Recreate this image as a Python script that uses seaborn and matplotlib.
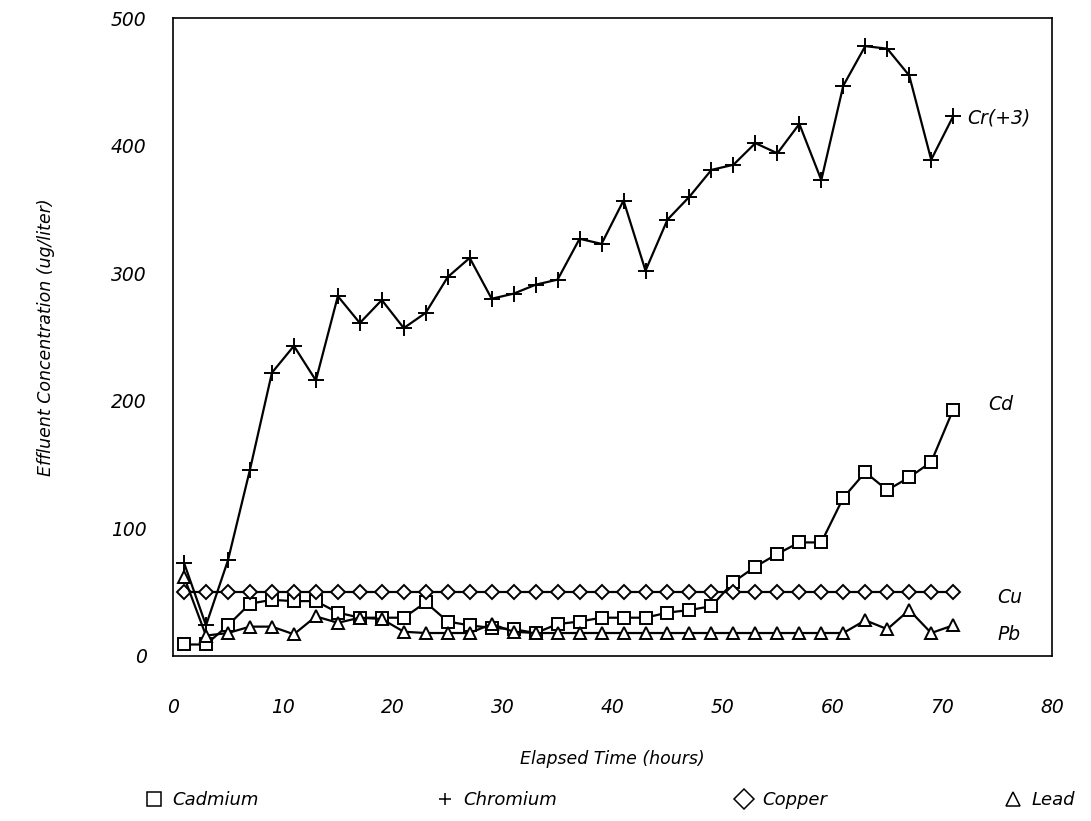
import seaborn as sns
import matplotlib.pyplot as plt
from matplotlib.lines import Line2D
import pandas as pd

sns.set_style("white")
plt.rcParams['font.family'] = ['DejaVu Sans']
plt.rcParams['font.style'] = 'italic'
plt.rcParams.update({"text.color": "black", "axes.labelcolor": "black",
                     "xtick.color": "black", "ytick.color": "black"})

# elapsed time (hours), one sample every 2 hours
hours = list(range(1, 72, 2))

cadmium = [9, 9, 24, 41, 44, 43, 43, 34, 30, 30, 30, 42, 27, 24, 22, 21, 18, 25, 27,
           30, 30, 30, 34, 36, 39, 58, 70, 80, 89, 89, 124, 144, 130, 140, 152, 193]
chromium = [73, 24, 75, 146, 222, 243, 216, 282, 261, 279, 257, 269, 297, 312, 280, 284, 291, 295,
            327, 323, 357, 302, 342, 360, 381, 385, 402, 394, 417, 373, 447, 478, 476, 455, 389, 423]
copper = [50] * 36
lead = [62, 16, 18, 23, 23, 17, 31, 26, 30, 29, 19, 18, 18, 18, 25, 19, 18, 18, 18,
        18, 18, 18, 18, 18, 18, 18, 18, 18, 18, 18, 18, 28, 21, 36, 18, 24]

metals = ["Cadmium", "Chromium", "Copper", "Lead"]
short_names = ["Cd", "Cr(+3)", "Cu", "Pb"]

df = pd.DataFrame({"hours": hours, "Cadmium": cadmium, "Chromium": chromium,
                   "Copper": copper, "Lead": lead})
long_df = df.melt(id_vars="hours", var_name="metal", value_name="conc")

marker_map = {"Cadmium": "s", "Chromium": "+", "Copper": "D", "Lead": "^"}
msize_map = {"Cadmium": 8, "Chromium": 11, "Copper": 7.5, "Lead": 8.5}

fig = plt.figure(figsize=(10.91, 8.21), dpi=100)
ax = fig.add_axes([0.1586, 0.201, 0.8057, 0.777])

for m in metals:
    sub = long_df[long_df["metal"] == m]
    sns.lineplot(data=sub, x="hours", y="conc", ax=ax, color="black", linewidth=1.6,
                 marker=marker_map[m], markersize=msize_map[m], mfc="white", mec="black",
                 mew=1.4, legend=False)

# series labels at the right end of the lines
label_pos = {"Cd": (74.2, 197), "Cr(+3)": (72.3, 422), "Cu": (75.0, 46), "Pb": (75.0, 17)}
for name in short_names:
    x, y = label_pos[name]
    ax.text(x, y, name, fontsize=13.5, va="center", ha="left")

ax.set_xlim(0, 80)
ax.set_ylim(0, 500)
ax.set_xticks(range(0, 81, 10))
ax.set_yticks(range(0, 501, 100))
ax.tick_params(axis="x", direction="in", length=9, width=1.1, pad=30, labelsize=13.5)
ax.tick_params(axis="y", direction="in", length=11, width=1.1, pad=19, labelsize=13.5)
for s in ax.spines.values():
    s.set_linewidth(1.2)
    s.set_color("black")

ax.set_xlabel("Elapsed Time (hours)", fontsize=12.5, labelpad=24)
ax.set_ylabel("Effluent Concentration (ug/liter)", fontsize=12.5, labelpad=40)

handles = [Line2D([], [], linestyle="none", marker=marker_map[m], color="black",
                  mfc="white", mew=1.1, markersize=10 if m != "Chromium" else 8)
           for m in metals]
fig.legend(handles, metals, loc="lower left", bbox_to_anchor=(0.12, -0.005, 0.88, 0.05),
           mode="expand", ncol=4, frameon=False, fontsize=13, handlelength=0.8,
           handletextpad=0.6)

plt.savefig("out.png", dpi=100)
plt.close()
